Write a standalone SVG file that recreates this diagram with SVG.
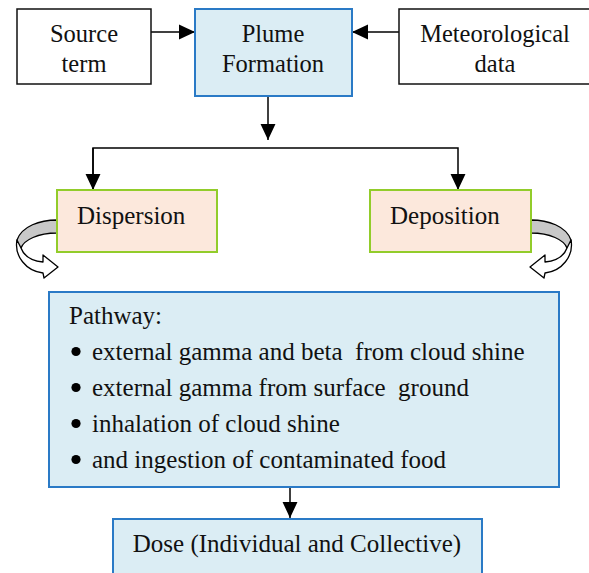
<svg xmlns="http://www.w3.org/2000/svg" width="589" height="573" viewBox="0 0 589 573">
<style>
text{font-family:'Liberation Serif','Times New Roman',serif;fill:#111;}
.top{font-size:24.5px;text-anchor:middle;}
.mid{font-size:25px;}
.bw{fill:#fff;stroke:#111;stroke-width:1.5;}
.bl{fill:#dbedf4;stroke:#2a7ac6;stroke-width:2;}
.or{fill:#fce8dc;stroke:#92cc2a;stroke-width:2;}
.c{fill:none;stroke:#000;stroke-width:1.5;}
.rib{stroke:#000;stroke-width:1.3;stroke-linejoin:round;}
</style>
<defs>
<marker id="ah" markerUnits="userSpaceOnUse" markerWidth="16" markerHeight="16" viewBox="0 0 15 14" refX="15" refY="7" orient="auto">
<path d="M0,0 L15,7 L0,14 Z" fill="#000"/>
</marker>
<g id="curl">
<path class="rib" fill="#c8c8c8" d="M57,220 C40,220 22,226 17,240 C16,244 18,246 21,248 C24,240 38,233 57,233 Z"/>
<path class="rib" fill="#fff" d="M17,240 C14,256 26,271 43,273 L44,278 L58,267 L43,255 L43,262 C32,261 24,256 21,248 Z"/>
</g>
</defs>
<rect width="589" height="573" fill="#fff"/>

<g id="connectors">
<line class="c" x1="151" y1="32" x2="195" y2="32" marker-end="url(#ah)"/>
<line class="c" x1="399" y1="32" x2="352" y2="32" marker-end="url(#ah)"/>
<line class="c" x1="268" y1="96" x2="268" y2="140" marker-end="url(#ah)"/>
<polyline class="c" points="93,190 93,148 458,148 458,190" marker-end="url(#ah)"/>
<line class="c" x1="93" y1="148" x2="93" y2="190" marker-end="url(#ah)"/>
<line class="c" x1="290" y1="487" x2="290" y2="518" marker-end="url(#ah)"/>
<use href="#curl"/>
<use href="#curl" transform="translate(588,0) scale(-1,1)"/>
</g>

<g id="source" font-family="Liberation Serif, serif">
<rect class="bw" x="17" y="9" width="134" height="75"/>
<text class="top" x="84" y="42">Source</text>
<text class="top" x="84" y="72">term</text>
</g>

<g id="plume">
<rect class="bl" x="195" y="9" width="157" height="87"/>
<text class="top" x="273" y="42">Plume</text>
<text class="top" x="273" y="72">Formation</text>
</g>

<g id="met">
<rect class="bw" x="399" y="9" width="192" height="75"/>
<text class="top" x="495" y="42">Meteorological</text>
<text class="top" x="495" y="72">data</text>
</g>

<g id="dispersion">
<rect class="or" x="57" y="190" width="160" height="62"/>
<text class="mid" x="77" y="224">Dispersion</text>
</g>

<g id="deposition">
<rect class="or" x="370" y="190" width="161" height="62"/>
<text class="mid" x="390" y="224">Deposition</text>
</g>

<g id="pathway">
<rect class="bl" x="49" y="292" width="510" height="195"/>
<text class="mid" x="69" y="324">Pathway:</text>
<circle cx="76" cy="351.5" r="4.6" fill="#000"/>
<circle cx="76" cy="387.5" r="4.6" fill="#000"/>
<circle cx="76" cy="423.5" r="4.6" fill="#000"/>
<circle cx="76" cy="459.5" r="4.6" fill="#000"/>
<text class="mid" x="92" y="360" xml:space="preserve">external gamma and beta  from cloud shine</text>
<text class="mid" x="92" y="396" xml:space="preserve">external gamma from surface  ground</text>
<text class="mid" x="92" y="432">inhalation of cloud shine</text>
<text class="mid" x="92" y="468">and ingestion of contaminated food</text>
</g>

<g id="dose">
<rect class="bl" x="113" y="519" width="369" height="60"/>
<text class="mid" x="297" y="552" text-anchor="middle">Dose (Individual and Collective)</text>
</g>
</svg>
